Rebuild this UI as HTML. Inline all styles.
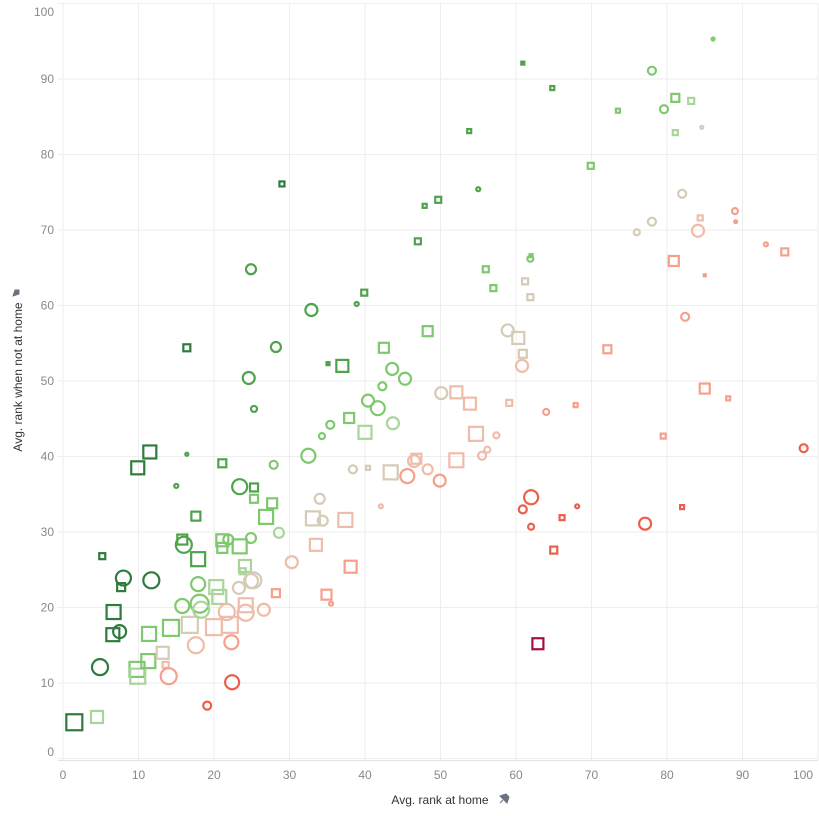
<!DOCTYPE html>
<html><head><meta charset="utf-8"><style>
body{margin:0;background:#fff;font-family:"Liberation Sans",sans-serif}
svg{display:block}
</style></head><body>
<svg id="chart" width="819" height="816" xmlns="http://www.w3.org/2000/svg">
<g id="grid"></g>
<g id="axes"></g>
<g id="marks"></g>
<text x="440" y="804" text-anchor="middle" font-size="12" fill="#333">Avg. rank at home</text>
<path d="M500 796 l6 -2 l3 3 l-2 6 z M500 803 l3 -3" fill="#6b7280" stroke="#6b7280" stroke-width="1"/>
<text transform="translate(22,377) rotate(-90)" text-anchor="middle" font-size="12" fill="#333">Avg. rank when not at home</text>
<path d="M13 296 l2 -6 l4 0 l0 4 l-6 2 z M13 296 l3 -3" fill="#6b7280" stroke="#6b7280" stroke-width="1"/>
</svg>
<script>
const xTicks=[0,10,20,30,40,50,60,70,80,90,100];
const yTicks=[0,10,20,30,40,50,60,70,80,90,100];
const xVals=[1.5,4.5,4.9,6.6,6.7,7.5,7.7,8.0,5.2,9.9,
11.5,11.7,9.8,9.9,11.3,11.4,13.2,13.6,14.0,14.3,
15.8,16.4,16.4,15.0,17.6,17.9,16.0,17.9,15.8,18.1,
16.8,18.3,17.6,19.1,20.0,20.3,20.7,21.1,21.1,21.1,
21.9,21.7,22.1,22.3,22.4,23.4,23.4,23.3,24.1,23.8,
24.2,24.2,24.9,25.2,24.9,24.6,25.3,25.3,25.3,24.9,
26.6,26.9,27.7,27.9,28.2,28.6,28.2,29.0,30.3,32.5,
32.9,34.0,34.4,33.1,33.5,34.9,35.5,35.1,34.3,35.4,
37.0,37.9,37.4,38.1,38.9,39.9,40.0,40.4,41.7,42.3,
42.5,43.6,43.7,45.3,38.4,40.4,42.1,43.4,45.6,46.5,
46.8,48.3,49.9,47.0,47.9,49.7,48.3,50.1,52.1,52.1,
53.9,54.7,55.5,56.2,57.4,53.8,55.0,56.0,57.0,59.1,
58.9,60.3,60.9,60.8,61.2,61.9,61.9,62.0,62.0,60.9,
62.0,65.0,64.0,60.9,64.8,67.9,66.1,68.1,69.9,72.1,
73.5,76.0,77.1,78.0,78.0,79.5,79.6,81.1,81.1,82.0,
83.2,84.1,80.9,82.0,82.4,84.4,84.6,85.0,85.0,86.1,
88.1,89.0,89.1,93.1,95.6,98.1,62.9];
const yVals=[4.8,5.5,12.1,16.4,19.4,16.8,22.7,23.9,26.8,38.5,
40.6,23.6,11.8,10.9,12.9,16.5,14.0,12.4,10.9,17.3,
29.0,54.4,40.3,36.1,32.1,26.4,28.3,23.1,20.2,20.5,
17.7,19.7,15.0,7.0,17.4,22.7,21.4,39.1,28.9,27.9,
29.0,19.4,17.7,15.4,10.1,36.0,28.1,22.6,25.5,24.8,
20.3,19.3,23.5,23.6,64.8,50.4,46.3,35.9,34.4,29.2,
19.7,32.0,33.8,38.9,54.5,29.9,21.9,76.1,26.0,40.1,
59.4,34.4,31.5,31.8,28.3,21.7,20.5,52.3,42.7,44.2,
52.0,45.1,31.6,25.4,60.2,61.7,43.2,47.4,46.4,49.3,
54.4,51.6,44.4,50.3,38.3,38.5,33.4,37.9,37.4,39.4,
39.7,38.3,36.8,68.5,73.2,74.0,56.6,48.4,48.5,39.5,
47.0,43.0,40.1,40.9,42.8,83.1,75.4,64.8,62.3,47.1,
56.7,55.7,53.6,52.0,63.2,61.1,66.2,66.6,34.6,33.0,
30.7,27.6,45.9,92.1,88.8,46.8,31.9,33.4,78.5,54.2,
85.8,69.7,31.1,91.1,71.1,42.7,86.0,87.5,82.9,74.8,
87.1,69.9,65.9,33.3,58.5,71.6,83.6,64.0,49.0,95.3,
47.7,72.5,71.1,68.1,67.1,41.1,15.2];
const shapeList=["s","s","c","s","s","c","s","c","s","s",
"s","c","s","s","s","s","s","s","c","s",
"s","s","c","c","s","s","c","c","c","c",
"s","c","c","c","s","s","s","s","s","s",
"c","c","s","c","c","c","s","c","s","s",
"s","c","c","c","c","c","c","s","s","c",
"c","s","s","c","c","c","s","s","c","c",
"c","c","c","s","s","s","c","s","c","c",
"s","s","s","s","c","s","s","c","c","c",
"s","c","c","c","c","s","c","s","c","c",
"s","c","c","s","s","s","s","c","s","s",
"s","s","c","c","c","s","c","s","s","s",
"c","s","s","c","s","s","c","s","c","c",
"c","s","c","s","s","s","s","c","s","s",
"s","c","c","c","c","s","c","s","s","c",
"s","c","s","s","c","s","c","s","s","c",
"s","c","c","c","s","c","s"];
const sizes=[18,14,18,15,16,15,10,17,8,15,
15,18,17,17,16,16,14,8,18,18,
12,9,4,6,11,16,18,16,16,20,
18,18,18,10,18,16,16,10,14,12,
12,18,18,16,16,17,16,14,14,8,
16,18,16,18,12,14,8,10,10,12,
14,16,12,10,12,12,10,7,14,16,
14,12,12,16,14,12,6,5,8,10,
14,12,16,14,6,8,15,14,16,10,
12,14,14,14,10,6,6,16,16,14,
12,12,14,8,6,8,12,14,14,16,
14,16,10,8,8,6,6,8,8,8,
14,14,10,14,8,8,8,5,16,10,
8,9,8,5,6,6,7,6,8,10,
6,8,14,10,10,7,10,10,7,10,
8,14,12,6,10,7,5,4,12,5,
6,8,4,6,9,10,13];
const groups=["G1","G4","G1","G1","G1","G1","G1","G1","G1","G1",
"G1","G1","G3","G4","G3","G3","B","P1","P2","G3",
"G2","G1","G2","G2","G2","G2","G2","G3","G3","G3",
"B","G4","P1","R","P1","G4","G4","G2","G3","G3",
"G3","P1","P1","P2","R","G2","G3","B","G4","G4",
"P1","P1","B","B","G2","G2","G2","G2","G3","G3",
"P1","G3","G3","G3","G2","G4","P2","G1","P1","G3",
"G2","B","B","B","P1","P2","P2","G2","G3","G3",
"G2","G3","P1","P2","G2","G2","G4","G3","G3","G3",
"G3","G3","G4","G3","B","B","P1","B","P2","P1",
"P1","P1","P2","G2","G2","G2","G3","B","P1","P1",
"P1","P1","P1","P1","P1","G2","G2","G3","G3","P1",
"B","B","B","P1","B","B","G3","G3","R","R",
"R","R","P2","G2","G2","P2","R","R","G3","P2",
"G3","B","R","G3","B","P2","G3","G3","G4","B",
"G4","P1","P2","R","P2","P1","B","P2","P2","G3",
"P2","P2","P2","P2","P2","R","C"];
const filled=[77,133,157,162];
const palette={G1:"#2f7b3e",G2:"#4fa34c",G3:"#7ec86d",G4:"#a9d59a",B:"#d5cbb6",P1:"#f0bcaa",P2:"#f5a08a",R:"#ec5f4c",C:"#a5113e"};
const NS="http://www.w3.org/2000/svg";
const X0=63,X1=818,Y0=758.5,Y1=3.5;
function sx(v){return X0+(v/100)*(X1-X0);}
function sy(v){return Y0-(v/100)*(Y0-Y1);}
function mk(t,a,p){const e=document.createElementNS(NS,t);for(const k in a)e.setAttribute(k,a[k]);p.appendChild(e);return e;}
const grid=document.getElementById('grid'),axes=document.getElementById('axes'),marks=document.getElementById('marks');
xTicks.forEach(t=>{
 const l=mk('line',{x1:sx(t),x2:sx(t),y1:3,y2:760,stroke:'#eeeeee','stroke-width':1},grid);
 
 
 const tx=mk('text',{x:Math.min(sx(t),803),y:779,'text-anchor':'middle','font-size':12,fill:'#888'},axes);
 tx.textContent=t;
 
 
});
yTicks.forEach(t=>{
 const l=mk('line',{x1:58,x2:818,y1:sy(t),y2:sy(t),stroke:'#eeeeee','stroke-width':1},grid);
 
 
 const ty=Math.min(Math.max(sy(t)+4,16),756);
 const tx=mk('text',{x:54,y:ty,'text-anchor':'end','font-size':12,fill:'#888'},axes);
 tx.textContent=t;
 
 
});
const ax=mk('line',{x1:58,x2:818,y1:760.5,y2:760.5,stroke:'#e4e4e4'},axes);


xVals.forEach((xv,i)=>{
 const cx=sx(xv),cy=sy(yVals[i]),s=sizes[i],col=palette[groups[i]]||'#7ec86d';
 const isF=filled.indexOf(i)>=0;
 let e;
 if(shapeList[i]==='c'){
  e=mk('circle',{cx:cx,cy:cy,r:Math.max(s/2-1,1.5),fill:isF?col:'none',stroke:col,'stroke-width':2.2},marks);
  
 }else{
  e=mk('rect',{x:cx-s/2+1,y:cy-s/2+1,width:Math.max(s-2,2),height:Math.max(s-2,2),fill:isF?col:'none',stroke:col,'stroke-width':2.2},marks);
  
 }
 
});
</script>
</body></html>
